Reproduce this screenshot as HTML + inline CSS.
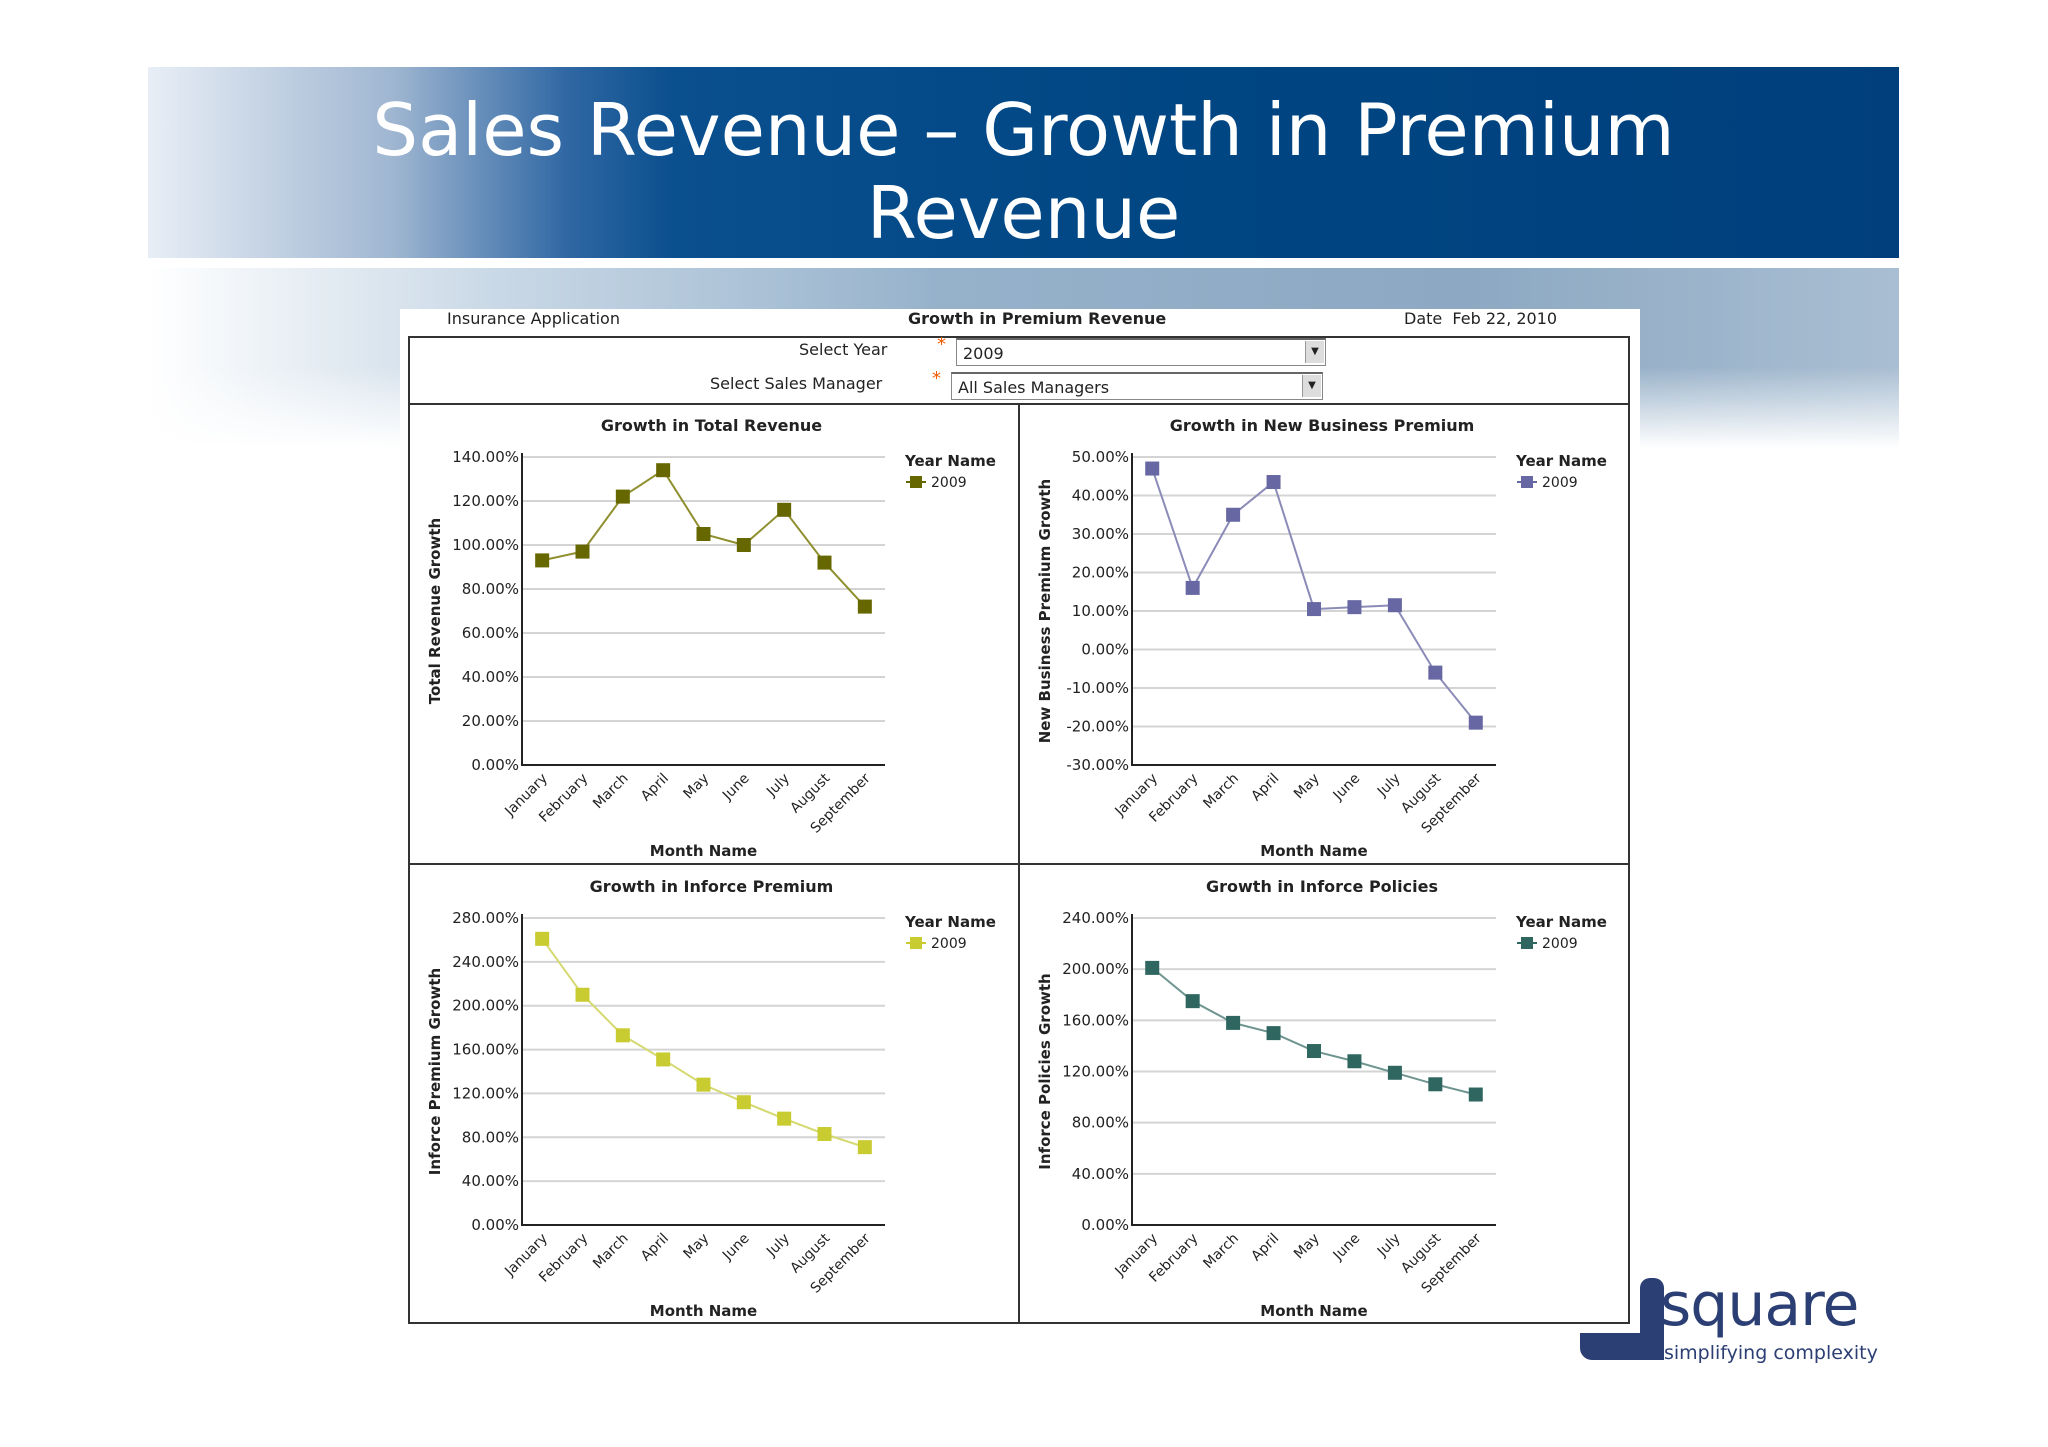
<!DOCTYPE html>
<html><head><meta charset="utf-8">
<style>
body{margin:0;width:2048px;height:1447px;background:#fff;position:relative;overflow:hidden;font-family:"DejaVu Sans","Liberation Sans",sans-serif}
#banner{position:absolute;left:148px;top:67px;width:1751px;height:191px;background:linear-gradient(90deg,#e8eef6 0%,#9fb6d1 14%,#2f67a3 24%,#0a4f8e 30%,#004683 60%,#003f7c 100%)}
#banner div{position:absolute;left:0;width:100%;text-align:center;color:#fff;font-family:"DejaVu Sans",sans-serif;font-size:72px;line-height:80px}
#band{position:absolute;left:148px;top:268px;width:1751px;height:180px;background:linear-gradient(180deg,rgba(255,255,255,0) 0%,rgba(255,255,255,0) 55%,#fff 100%),linear-gradient(90deg,#fff 0%,#c9d8e6 20%,#96b2cb 45%,#8ca8c2 75%,#a9bed2 100%)}
#panel{position:absolute;left:400px;top:309px;width:1240px;height:1020px;background:#fff}
.hdr{position:absolute;top:309px;font-size:16px;color:#222}
#box{position:absolute;left:408px;top:336px;width:1222px;height:988px;border:2px solid #333;box-sizing:border-box}
.lbl{position:absolute;font-size:16px;color:#222}
.star{position:absolute;color:#f05a00;font-size:18px}
.sel{position:absolute;height:28px;border:1px solid #888;border-top:2px solid #666;background:#fff;font-size:16px;box-sizing:border-box;padding:4px 6px;color:#222}
.sel span{position:absolute;right:1px;top:1px;width:18px;height:22px;background:#ddd;border-left:1px solid #999;font-size:10px;text-align:center;line-height:22px}
svg{position:absolute;left:0;top:0}
</style></head><body>
<div id="banner">
<div style="top:23px">Sales Revenue – Growth in Premium</div>
<div style="top:106px">Revenue</div>
</div>
<div id="band"></div>
<div id="panel"></div>
<div class="hdr" style="left:447px">Insurance Application</div>
<div class="hdr" style="left:908px;font-weight:bold">Growth in Premium Revenue</div>
<div class="hdr" style="left:1404px">Date&nbsp; Feb 22, 2010</div>
<div id="box"></div>
<div class="lbl" style="left:799px;top:340px">Select Year</div>
<div class="star" style="left:937px;top:334px">*</div>
<div class="sel" style="left:956px;top:338px;width:370px">2009<span>▼</span></div>
<div class="lbl" style="left:710px;top:374px">Select Sales Manager</div>
<div class="star" style="left:932px;top:368px">*</div>
<div class="sel" style="left:951px;top:372px;width:372px">All Sales Managers<span>▼</span></div>
<svg id="s" width="2048" height="1447"></svg>
<div style="position:absolute;left:1580px;top:1278px;width:88px;height:82px">
<div style="position:absolute;left:60px;top:0;width:24px;height:60px;background:#2c3f74;border-radius:10px 10px 0 0"></div>
<div style="position:absolute;left:0;top:55px;width:84px;height:27px;background:#2c3f74;border-radius:0 0 0 12px"></div>
</div>
<div style="position:absolute;left:1660px;top:1270px;font-size:60px;color:#2c3f74;letter-spacing:-1px;font-family:'DejaVu Sans',sans-serif">square</div>
<div style="position:absolute;left:1664px;top:1342px;font-size:19px;color:#2c3f74">simplifying complexity</div>
<script>
const months=["January","February","March","April","May","June","July","August","September"];
const totalRevenue=[93,97,122,134,105,100,116,92,72];
const newBusiness=[47,16,35,43.5,10.5,11,11.5,-6,-19];
const inforcePremium=[261,210,173,151,128,112,97,83,71];
const inforcePolicies=[201,175,158,150,136,128,119,110,102];
const ticks1=[0,20,40,60,80,100,120,140];
const ticks2=[-30,-20,-10,0,10,20,30,40,50];
const ticks3=[0,40,80,120,160,200,240,280];
const ticks4=[0,40,80,120,160,200,240];
const svg=document.getElementById('s');
const NS='http://www.w3.org/2000/svg';
function mk(t,a,txt){const e=document.createElementNS(NS,t);for(const k in a)e.setAttribute(k,a[k]);if(txt!=null)e.textContent=txt;svg.appendChild(e);return e;}
function chart(o){
 const {x0,x1,yTop,yBot,ticks,vals,title,ytitle,mk:mc,lc,key}=o;
 const lo=ticks[0],hi=ticks[ticks.length-1];
 const ys=v=>yBot-(v-lo)/(hi-lo)*(yBot-yTop);
 const bw=(x1-x0)/months.length;
 const xs=i=>x0+bw*(i+0.5);
 let e;
 e=mk('text',{x:(x0+x1)/2+8,y:yTop-26,'text-anchor':'middle','font-size':16,'font-weight':'bold',fill:'#222'},title);
 
 ticks.forEach(t=>{
  if(t!==lo){e=mk('line',{x1:x0,x2:x1,y1:ys(t),y2:ys(t),stroke:'#d4d4d4','stroke-width':2});
  }
  e=mk('text',{x:x0-3,y:ys(t)+5,'text-anchor':'end','font-size':15,fill:'#222'},t.toFixed(2)+'%');
  
 });
 e=mk('polyline',{points:`${x0},${yTop-4} ${x0},${yBot} ${x1},${yBot}`,fill:'none',stroke:'#222','stroke-width':2});
 
 e=mk('polyline',{points:vals.map((v,i)=>xs(i)+','+ys(v)).join(' '),fill:'none',stroke:lc,'stroke-width':2});
 
 vals.forEach((v,i)=>{e=mk('rect',{x:xs(i)-7,y:ys(v)-7,width:14,height:14,fill:mc});
  });
 months.forEach((m,i)=>{const tx=xs(i)+6,ty=yBot+14;
  e=mk('text',{x:tx,y:ty,'text-anchor':'end','font-size':14,fill:'#222',transform:`rotate(-45 ${tx} ${ty})`},m);
  });
 e=mk('text',{x:(x0+x1)/2,y:yBot+91,'text-anchor':'middle','font-size':15,'font-weight':'bold',fill:'#222'},'Month Name');
 
 const cy=(yTop+yBot)/2,cx=x0-82;
 e=mk('text',{x:cx,y:cy,'text-anchor':'middle','font-size':15,'font-weight':'bold',fill:'#222',transform:`rotate(-90 ${cx} ${cy})`},ytitle);
 
 e=mk('text',{x:x1+20,y:yTop+9,'font-size':15,'font-weight':'bold',fill:'#222'},'Year Name');
 
 e=mk('line',{x1:x1+21,x2:x1+41,y1:yTop+25,y2:yTop+25,stroke:mc,'stroke-width':2});
 
 e=mk('rect',{x:x1+25,y:yTop+19,width:12,height:12,fill:mc});
 
 e=mk('text',{x:x1+46,y:yTop+30,'font-size':14,fill:'#222'},'2009');
 
}
let d;
d=mk('line',{x1:408,x2:1630,y1:404,y2:404,stroke:'#333','stroke-width':2});
d=mk('line',{x1:408,x2:1630,y1:864,y2:864,stroke:'#333','stroke-width':2});
d=mk('line',{x1:1019,x2:1019,y1:404,y2:1324,stroke:'#333','stroke-width':2});
chart({key:'total-revenue',x0:522,x1:885,yTop:457,yBot:765,ticks:ticks1,vals:totalRevenue,title:'Growth in Total Revenue',ytitle:'Total Revenue Growth',mk:'#676700',lc:'#8f8f30'});
chart({key:'new-business',x0:1132,x1:1496,yTop:457,yBot:765,ticks:ticks2,vals:newBusiness,title:'Growth in New Business Premium',ytitle:'New Business Premium Growth',mk:'#6767a3',lc:'#8b8bb8'});
chart({key:'inforce-premium',x0:522,x1:885,yTop:918,yBot:1225,ticks:ticks3,vals:inforcePremium,title:'Growth in Inforce Premium',ytitle:'Inforce Premium Growth',mk:'#c8cc30',lc:'#d6d870'});
chart({key:'inforce-policies',x0:1132,x1:1496,yTop:918,yBot:1225,ticks:ticks4,vals:inforcePolicies,title:'Growth in Inforce Policies',ytitle:'Inforce Policies Growth',mk:'#2f6660',lc:'#6f9590'});
</script>
</body></html>
